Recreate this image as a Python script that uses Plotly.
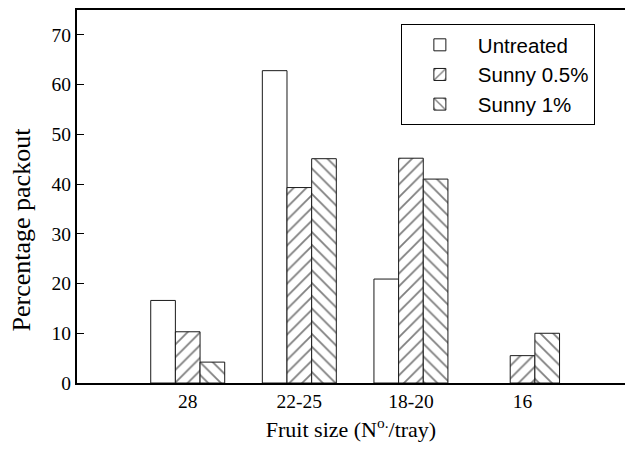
import plotly.graph_objects as go

categories = ["28", "22-25", "18-20", "16"]
untreated = [16.6, 62.8, 20.9, 0]
sunny_05 = [10.3, 39.3, 45.2, 5.5]
sunny_1 = [4.2, 45.1, 41.0, 10.0]

series = [
    ("Untreated", untreated, ""),
    ("Sunny 0.5%", sunny_05, "/"),
    ("Sunny 1%", sunny_1, "\\"),
]

fig = go.Figure()
for name, vals, shape in series:
    fig.add_trace(go.Bar(
        x=list(range(len(categories))),
        y=[v if v else None for v in vals],
        name=name,
        marker=dict(
            color="white",
            line=dict(color="#1a1a1a", width=1),
            pattern=dict(shape=shape, fgcolor="black", bgcolor="white",
                         size=9, solidity=0.2, fillmode="overlay"),
        ),
    ))

serif = "Liberation Serif, Times New Roman, serif"
fig.update_layout(
    width=625, height=449,
    margin=dict(l=77, r=0, t=10, b=66),
    paper_bgcolor="white", plot_bgcolor="white",
    barmode="group", bargap=0.337, bargroupgap=0,
    showlegend=True,
    legend=dict(
        x=0.591, y=0.9625, xanchor="left", yanchor="top",
        bordercolor="black", borderwidth=1, bgcolor="white",
        font=dict(family="Liberation Sans, Arial, sans-serif", size=20.5, color="black"),
        tracegroupgap=0, itemwidth=66,
    ),
    xaxis=dict(
        range=[-0.992, 3.918], tickmode="array",
        tickvals=list(range(len(categories))), ticktext=categories,
        showline=True, linecolor="black", linewidth=2, mirror=True,
        ticks="", showgrid=False, zeroline=False,
        tickfont=dict(family=serif, size=19.5, color="black"),
        title=dict(text="Fruit size (N<sup>o.</sup>/tray)", standoff=10,
                   font=dict(family=serif, size=22, color="black")),
    ),
    yaxis=dict(
        range=[0, 75], tickmode="array", tickvals=list(range(0, 71, 10)),
        showline=True, linecolor="black", linewidth=2, mirror=False,
        ticks="inside", ticklen=7, tickcolor="black", tickwidth=1,
        showgrid=False, zeroline=False,
        tickfont=dict(family=serif, size=19.5, color="black"),
    ),
    annotations=[dict(
        text="Percentage packout", textangle=-90,
        xref="paper", yref="paper", x=-0.1004, y=0.4115,
        xanchor="center", yanchor="middle", showarrow=False,
        font=dict(family=serif, size=26, color="black"),
    )],
)

fig.write_html("out.html")
